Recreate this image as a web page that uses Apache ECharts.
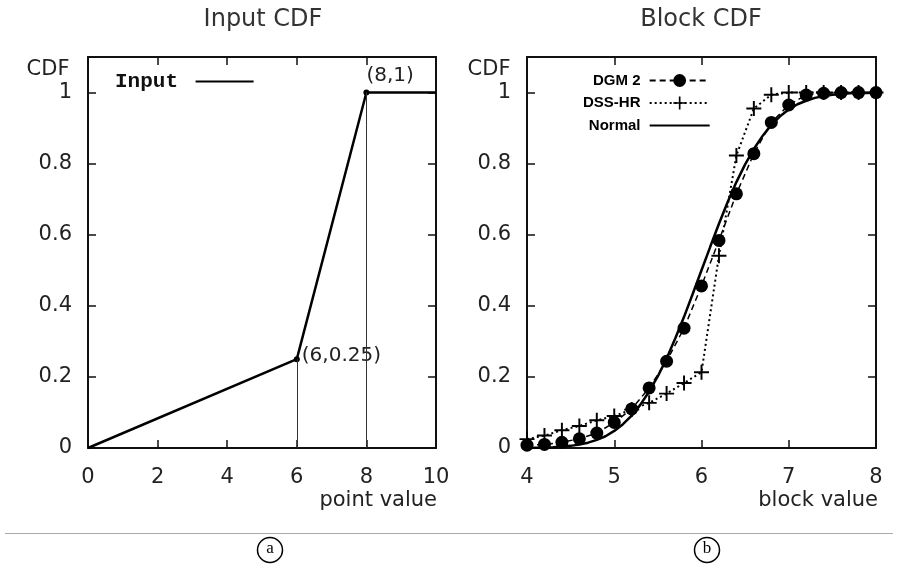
<!DOCTYPE html>
<html><head><meta charset="utf-8">
<script src="https://cdn.jsdelivr.net/npm/echarts@6/dist/echarts.min.js"></script>
<style>html,body{margin:0;padding:0;background:#fff}#c{width:899px;height:567px}</style>
</head><body><div id="c"></div>
<script>
// ---- Chart (a): Input CDF ----
const inputX = [0, 6, 8, 10];
const inputY = [0, 0.25, 1, 1];
const inputLabels = ['', '(6,0.25)', '(8,1)', ''];

// ---- Chart (b): Block CDF ----
const dgmX = [4.0, 4.2, 4.4, 4.6, 4.8, 5.0, 5.2, 5.4, 5.6, 5.8, 6.0, 6.2, 6.4, 6.6, 6.8, 7.0, 7.2, 7.4, 7.6, 7.8, 8.0];
const dgmY = [0.008, 0.010, 0.016, 0.026, 0.042, 0.072, 0.110, 0.169, 0.244, 0.337, 0.456, 0.584, 0.715, 0.828, 0.916, 0.965, 0.993, 0.998, 1.0, 1.0, 1.0];
const dssX = [4.0, 4.2, 4.4, 4.6, 4.8, 5.0, 5.2, 5.4, 5.6, 5.8, 6.0, 6.2, 6.4, 6.6, 6.8, 7.0, 7.2, 7.4, 7.6, 7.8, 8.0];
const dssY = [0.025, 0.035, 0.050, 0.062, 0.078, 0.090, 0.108, 0.127, 0.153, 0.183, 0.213, 0.541, 0.823, 0.955, 0.994, 1.0, 1.0, 1.0, 1.0, 1.0, 1.0];
const normalX = [4.0, 4.1, 4.2, 4.3, 4.4, 4.5, 4.6, 4.7, 4.8, 4.9, 5.0, 5.1, 5.2, 5.3, 5.4, 5.5, 5.6, 5.7, 5.8, 5.9, 6.0,
                 6.1, 6.2, 6.3, 6.4, 6.5, 6.6, 6.7, 6.8, 6.9, 7.0, 7.1, 7.2, 7.3, 7.4, 7.5, 7.6, 7.7, 7.8, 7.9, 8.0];
const normalY = [0.000, 0.001, 0.001, 0.002, 0.004, 0.006, 0.010, 0.015, 0.023, 0.033, 0.048, 0.067, 0.091, 0.122, 0.159, 0.202, 0.252, 0.309, 0.369, 0.434, 0.500,
                 0.566, 0.631, 0.692, 0.748, 0.798, 0.841, 0.878, 0.909, 0.933, 0.952, 0.967, 0.977, 0.985, 0.990, 0.994, 0.996, 0.998, 0.999, 0.999, 1.000];

const titles = ['Input CDF', 'Block CDF'];
const yName = 'CDF';
const xNames = ['point value', 'block value'];
const panelTags = ['a', 'b'];

const zip = (xs, ys) => xs.map((x, i) => [x, ys[i]]);
const FONT = '"DejaVu Sans", sans-serif';
const TXT = '#222';

function axisPair(gridIndex, min, max, interval, isX, hideAbove) {
  const base = {
    gridIndex, min, max, interval, type: 'value',
    splitLine: { show: false },
    axisLine: { show: true, onZero: false, lineStyle: { color: '#111', width: 2 } },
    axisTick: { show: true, inside: true, length: 8, lineStyle: { color: '#111', width: 1.5 } }
  };
  const main = Object.assign({}, base, {
    position: isX ? 'bottom' : 'left',
    axisLabel: {
      show: true, margin: isX ? 19 : 16, fontSize: 21, fontFamily: FONT, color: TXT,
      formatter: v => (hideAbove != null && v > hideAbove + 1e-9) ? '' : String(+v.toFixed(2))
    }
  });
  const mirror = Object.assign({}, base, {
    position: isX ? 'top' : 'right',
    axisLabel: { show: false }
  });
  return [main, mirror];
}

const [xa0, xa1] = axisPair(0, 0, 10, 2, true);
const [xb0, xb1] = axisPair(1, 4, 8, 1, true);
const [ya0, ya1] = axisPair(0, 0, 1.1, 0.2, false, 1);
const [yb0, yb1] = axisPair(1, 0, 1.1, 0.2, false, 1);

const crossPath = 'path://M4.35,0h1.3v10h-1.3z M0,4.35h10v1.3h-10z';

const inputData = inputX.map((x, i) => {
  const item = { value: [x, inputY[i]] };
  if (inputLabels[i]) {
    item.symbolSize = 6;
    item.label = i === 2
      ? { show: true, position: 'top', align: 'left', distance: 4, offset: [0, 0] }
      : { show: true, position: 'right', distance: 2, offset: [0, -3] };
  } else {
    item.symbolSize = 0;
  }
  return item;
});

const option = {
  animation: false,
  backgroundColor: '#fff',
  grid: [
    { left: 88, right: 463, top: 57, bottom: 119 },
    { left: 527, right: 23, top: 57, bottom: 119 }
  ],
  xAxis: [xa0, xa1, xb0, xb1],
  yAxis: [ya0, ya1, yb0, yb1],
  legend: [
    {
      data: [{ name: 'Input', itemStyle: { opacity: 0 } }],
      left: 115, top: 71, padding: 0, align: 'right',
      itemWidth: 58, itemHeight: 16,
      formatter: n => n + ' ',
      textStyle: { fontFamily: '"Liberation Mono", monospace', fontSize: 21, fontWeight: 'bold', color: '#111' },
      selectedMode: false
    },
    {
      data: ['DGM 2', 'DSS-HR', { name: 'Normal', itemStyle: { opacity: 0 } }],
      orient: 'vertical', left: 583, top: 73, padding: 0, align: 'right',
      itemWidth: 60, itemHeight: 16, itemGap: 7.5,
      formatter: n => n + ' ',
      textStyle: { fontFamily: '"Liberation Sans", Arial, sans-serif', fontSize: 15, fontWeight: 'bold', color: '#000' },
      selectedMode: false
    }
  ],
  series: [
    {
      name: 'Input', type: 'line', xAxisIndex: 0, yAxisIndex: 0,
      data: inputData, symbol: 'circle', showAllSymbol: true,
      itemStyle: { color: '#000' },
      lineStyle: { color: '#000', width: 2.5 },
      label: {
        formatter: p => inputLabels[p.dataIndex],
        fontFamily: FONT, fontSize: 20, color: TXT
      },
      markLine: {
        silent: true, symbol: ['none', 'none'],
        label: { show: false },
        lineStyle: { color: '#333', width: 1, type: 'solid' },
        data: [
          [{ coord: [inputX[1], 0] }, { coord: [inputX[1], inputY[1]] }],
          [{ coord: [inputX[2], 0] }, { coord: [inputX[2], inputY[2]] }]
        ]
      },
      z: 3
    },
    {
      name: 'Normal', type: 'line', xAxisIndex: 2, yAxisIndex: 2,
      data: zip(normalX, normalY), symbol: 'none',
      itemStyle: { color: '#000' },
      lineStyle: { color: '#000', width: 2.5 },
      z: 2
    },
    {
      name: 'DGM 2', type: 'line', xAxisIndex: 2, yAxisIndex: 2,
      data: zip(dgmX, dgmY), symbol: 'circle', symbolSize: 13, showAllSymbol: true,
      itemStyle: { color: '#000' },
      lineStyle: { color: '#000', width: 1.5, type: [6, 4] },
      z: 3
    },
    {
      name: 'DSS-HR', type: 'line', xAxisIndex: 2, yAxisIndex: 2,
      data: zip(dssX, dssY), symbol: crossPath, symbolSize: 15, showAllSymbol: true,
      itemStyle: { color: '#000' },
      lineStyle: { color: '#000', width: 2, type: [2, 3] },
      z: 4
    }
  ],
  graphic: [
    { type: 'text', x: 263, y: 20, style: { text: titles[0], font: '24px ' + FONT, fill: '#333', align: 'center', verticalAlign: 'middle' } },
    { type: 'text', x: 701, y: 20, style: { text: titles[1], font: '24px ' + FONT, fill: '#333', align: 'center', verticalAlign: 'middle' } },
    { type: 'text', x: 48, y: 70, style: { text: yName, font: '21px ' + FONT, fill: TXT, align: 'center', verticalAlign: 'middle' } },
    { type: 'text', x: 489, y: 70, style: { text: yName, font: '21px ' + FONT, fill: TXT, align: 'center', verticalAlign: 'middle' } },
    { type: 'text', x: 437, y: 501, style: { text: xNames[0], font: '21px ' + FONT, fill: TXT, align: 'right', verticalAlign: 'middle' } },
    { type: 'text', x: 878, y: 501, style: { text: xNames[1], font: '21px ' + FONT, fill: TXT, align: 'right', verticalAlign: 'middle' } },
    { type: 'line', shape: { x1: 5, y1: 533.5, x2: 893, y2: 533.5 }, style: { stroke: '#aaa', lineWidth: 1 } },
    { type: 'circle', shape: { cx: 270, cy: 550, r: 12.5 }, style: { fill: 'none', stroke: '#000', lineWidth: 1.5 } },
    { type: 'circle', shape: { cx: 707, cy: 550, r: 12.5 }, style: { fill: 'none', stroke: '#000', lineWidth: 1.5 } },
    { type: 'text', x: 270, y: 549, style: { text: panelTags[0], font: '17px "Liberation Serif", serif', fill: '#000', align: 'center', verticalAlign: 'middle' } },
    { type: 'text', x: 707, y: 549, style: { text: panelTags[1], font: '17px "Liberation Serif", serif', fill: '#000', align: 'center', verticalAlign: 'middle' } }
  ]
};

const chart = echarts.init(document.getElementById('c'), null, { renderer: 'canvas' });
chart.setOption(option);
</script>
</body></html>
